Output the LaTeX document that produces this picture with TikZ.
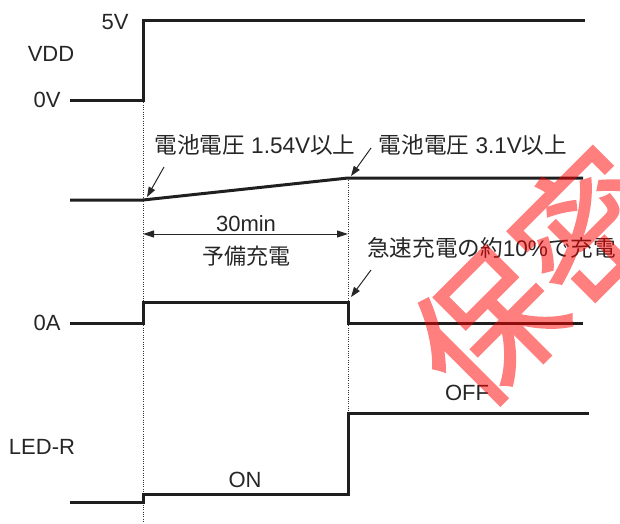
\documentclass[tikz,border=0pt]{standalone}
\usepackage{fontspec}
\setmainfont{Liberation Sans}
\newfontfamily\cjk{Noto Sans CJK JP}
\newfontfamily\wmfont[FakeBold=1.5]{Noto Sans CJK SC}
\usetikzlibrary{arrows.meta}
\begin{document}
\begin{tikzpicture}[x=1pt,y=-1pt,
  sig/.style={line width=3pt,line cap=butt,line join=miter,draw=black!88},
  guide/.style={line width=0.7pt,draw=black!80,dash pattern=on 1pt off 1.3pt},
  pointer/.style={line width=1pt,draw=black!85,-{Triangle[length=10pt,width=7pt]}},
  dim/.style={line width=1pt,draw=black!85,{Triangle[length=11pt,width=7pt]}-{Triangle[length=11pt,width=7pt]}},
  lab/.style={inner sep=0pt,font=\fontsize{22}{24}\selectfont,text=black!85},
  jlab/.style={inner sep=0pt,font=\fontsize{22.6}{26}\selectfont,text=black!85},
  stamp/.style={inner sep=0pt,text=red,font=\wmfont\fontsize{142}{142}\selectfont,rotate=45}
]
\useasboundingbox (0,0) rectangle (620,523);
\clip (0,0) rectangle (620,523);

% coordinates
\coordinate (v0) at (70,100);  \coordinate (v1) at (143,100);
\coordinate (v2) at (143,20);  \coordinate (v3) at (585,20);
\coordinate (b0) at (70,200);  \coordinate (b1) at (143,200);
\coordinate (b2) at (348,178); \coordinate (b3) at (583,178);
\coordinate (c0) at (70,323);  \coordinate (c1) at (143,323);
\coordinate (c2) at (143,302); \coordinate (c3) at (348,302);
\coordinate (c4) at (348,323); \coordinate (c5) at (583,323);
\coordinate (l0) at (70,502);  \coordinate (l1) at (143,502);
\coordinate (l2) at (143,494); \coordinate (l3) at (348,494);
\coordinate (l4) at (348,413); \coordinate (l5) at (589,413);
\coordinate (g1b) at (143,523); \coordinate (g2b) at (348,413);
\coordinate (da) at (143,234); \coordinate (db) at (348,234);

% guides
\draw[guide] (v1) -- (g1b);
\draw[guide] (b2) -- (g2b);

% signals
\draw[sig] (v0) -- (v1) -- (v2) -- (v3);
\draw[sig] (b0) -- (b1) -- (b2) -- (b3);
\draw[sig] (c0) -- (c1) -- (c2) -- (c3) -- (c4) -- (c5);
\draw[sig] (l0) -- (l1) -- (l2) -- (l3) -- (l4) -- (l5);

% labels
\node[lab] (t5v) at (115,22) {5V};
\node[lab] (tvdd) at (51,54) {VDD};
\node[lab] (t0v) at (47,100) {0V};
\node[lab] (t0a) at (47,323) {0A};
\node[lab] (tled) at (42,447) {LED-R};
\node[lab] (ton) at (245,480) {ON};
\node[lab] (toff) at (467,393) {OFF};
\node[lab] (tmin) at (246,224) {30min};
\node[lab,font=\cjk\fontsize{22}{24}\selectfont] (tpre) at (246,256) {予備充電};

\node[jlab] (tb1) at (255,145) {{\cjk 電池電圧} 1.54V{\cjk 以上}};
\node[jlab] (tb2) at (473,145) {{\cjk 電池電圧} 3.1V{\cjk 以上}};
\node[jlab,anchor=west] (tq) at (367,248) {{\cjk 急速充電の約}10\%{\cjk で充電}};

% pointers
\coordinate (p1s) at (164,167); \coordinate (p1e) at (147,197);
\coordinate (p2s) at (371,148); \coordinate (p2e) at (351,176);
\coordinate (p3s) at (371,270); \coordinate (p3e) at (351,297);
\draw[pointer] (p1s) -- (p1e);
\draw[pointer] (p2s) -- (p2e);
\draw[pointer] (p3s) -- (p3e);

% dimension
\draw[dim] (da) -- (db);

% watermark
\begin{scope}[transparency group,opacity=0.5]
\node[stamp] (wm) at (537,276) {保密};
\end{scope}
\end{tikzpicture}
\end{document}
